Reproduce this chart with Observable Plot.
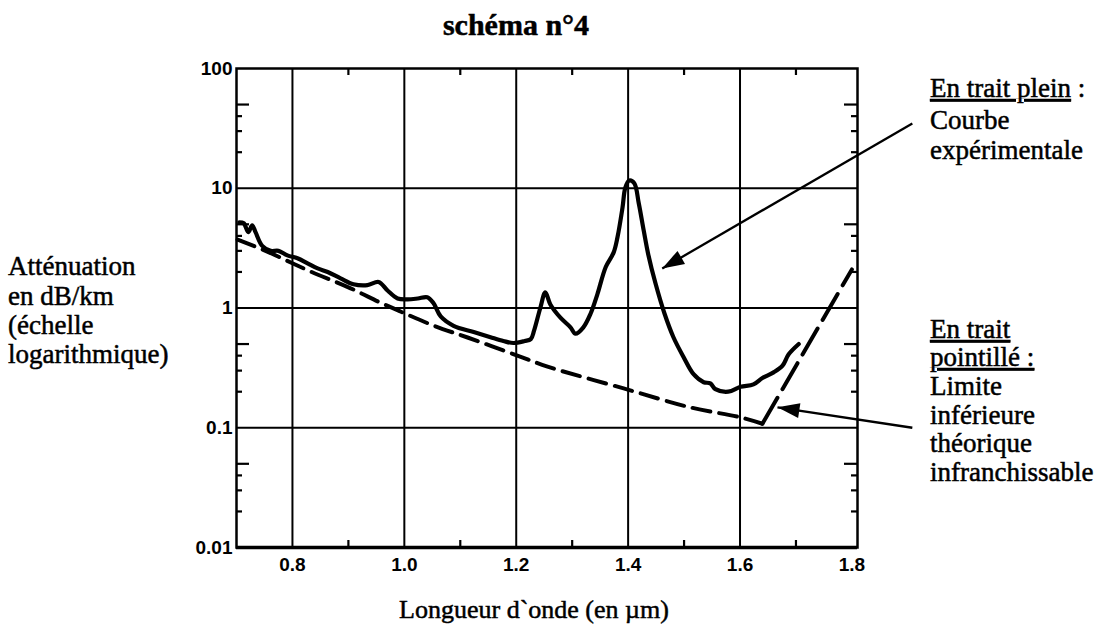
<!DOCTYPE html>
<html><head><meta charset="utf-8">
<script src="https://cdn.jsdelivr.net/npm/d3@7"></script>
<script src="https://cdn.jsdelivr.net/npm/@observablehq/plot@0.6"></script>
<style>
body{margin:0;background:#fff;}
#wrap{position:relative;width:1095px;height:631px;overflow:hidden;background:#fff;}
#wrap svg{position:absolute;left:0;top:0;}
.t{font-family:"Liberation Serif","Times New Roman","DejaVu Serif",serif;fill:#000;stroke:#000;stroke-width:0.5px;}
</style></head><body><div id="wrap"></div>
<script>
// ---- data ----
const xDomain = [0.7, 1.81];
const yDomain = [0.01, 100];
const xTicks = [0.8, 1.0, 1.2, 1.4, 1.6, 1.8];
const xGrid = [0.8, 1.0, 1.2, 1.4, 1.6];
const xMinor = [0.9, 1.1, 1.3, 1.5, 1.7];
const yLabels = [100, 50, 10, 5, 1, 0.5, 0.1, 0.05, 0.01];
const yGrid = [10, 1, 0.1];
const yLong = [50, 5, 0.5, 0.05];
const yShort = [40, 30, 20, 4, 3, 2, 0.4, 0.3, 0.2, 0.04, 0.03, 0.02];

// experimental curve (solid)
const expX = [0.705,0.713,0.721,0.728,0.734,0.746,0.761,0.775,0.791,0.809,0.827,0.845,0.863,0.886,0.909,0.934,0.954,0.970,0.988,1.006,1.024,1.041,1.052,1.065,1.088,1.124,1.154,1.177,1.195,1.215,1.226,1.232,1.243,1.252,1.261,1.279,1.297,1.306,1.320,1.333,1.345,1.360,1.374,1.381,1.390,1.395,1.402,1.411,1.419,1.428,1.436,1.449,1.465,1.481,1.499,1.517,1.535,1.547,1.556,1.579,1.601,1.624,1.640,1.660,1.676,1.687,1.705];
const expY = [5.2,5.1,4.3,4.9,4.3,3.3,3.0,3.0,2.75,2.6,2.36,2.14,2.0,1.77,1.58,1.55,1.65,1.4,1.2,1.18,1.2,1.23,1.1,0.85,0.71,0.63,0.57,0.53,0.51,0.53,0.55,0.65,1.0,1.35,1.07,0.83,0.69,0.61,0.69,0.9,1.3,2.2,2.9,3.9,6.9,10.1,11.6,11,7.5,4.4,2.8,1.6,0.9,0.57,0.39,0.28,0.24,0.235,0.21,0.2,0.22,0.23,0.26,0.29,0.33,0.41,0.5];

// theoretical lower limit (dashed)
const limX = [0.702,0.755,0.797,0.832,0.904,0.957,0.993,1.052,1.113,1.202,1.256,1.392,1.511,1.601,1.640];
const limY = [3.73,2.96,2.40,2.02,1.46,1.11,0.935,0.714,0.567,0.401,0.324,0.213,0.148,0.122,0.108];
// rising branch of the limit (long dashes)
const riseX = [1.640, 1.800];
const riseY = [0.108, 2.1];

// annotation arrows (data units)
const arrowX1 = [1.908, 1.908];
const arrowY1 = [34.8, 0.1];
const arrowX2 = [1.461, 1.667];
const arrowY2 = [2.14, 0.148];

// ---- tables ----
const expData = expX.map((x, i) => ({x, y: expY[i]}));
const limData = limX.map((x, i) => ({x, y: limY[i]}));
const riseData = riseX.map((x, i) => ({x, y: riseY[i]}));
const arrowData = arrowX1.map((x1, i) => ({x1, y1: arrowY1[i], x2: arrowX2[i], y2: arrowY2[i]}));

const W = 1095, H = 631, mL = 236, mR = 238, mT = 68, mB = 84;
const fw = W - mL - mR, fh = H - mT - mB;

const plot = Plot.plot({
  width: W, height: H,
  marginLeft: mL, marginRight: mR, marginTop: mT, marginBottom: mB,
  style: {background: "white", color: "black", fontFamily: "'Liberation Sans', Arial, sans-serif", overflow: "visible"},
  x: {domain: xDomain},
  y: {type: "log", domain: yDomain},
  marks: [
    Plot.ruleX(xGrid, {x: d => d, stroke: "black", strokeWidth: 2}),
    Plot.ruleY(yGrid, {y: d => d, stroke: "black", strokeWidth: 2}),
    Plot.tickY(yLong, {y: d => d, insetRight: fw - 13, strokeWidth: 2.2}),
    Plot.tickY(yLong, {y: d => d, insetLeft: fw - 13, strokeWidth: 2.2}),
    Plot.tickY(yShort, {y: d => d, insetRight: fw - 6, strokeWidth: 2.2}),
    Plot.tickY(yShort, {y: d => d, insetLeft: fw - 6, strokeWidth: 2.2}),
    Plot.tickX(xMinor, {x: d => d, insetTop: fh - 7, strokeWidth: 2.2}),
    Plot.tickX(xMinor, {x: d => d, insetBottom: fh - 7, strokeWidth: 2.2}),
    Plot.frame({stroke: "black", strokeWidth: 2.5}),
    Plot.ruleY([yDomain[0]], {y: d => d, strokeWidth: 3.5}),
    Plot.axisX({ticks: xTicks, tickFormat: d3.format(".1f"), tickSize: 0, tickPadding: 10, fontSize: 19, fontWeight: "bold", label: null}),
    Plot.axisY({ticks: yLabels, tickFormat: d => String(d), tickSize: 0, tickPadding: 4, fontSize: 19, fontWeight: "bold", label: null}),
    Plot.line(limData, {x: "x", y: "y", stroke: "black", strokeWidth: 4, strokeDasharray: "18,9", curve: "catmull-rom"}),
    Plot.line(riseData, {x: "x", y: "y", stroke: "black", strokeWidth: 4, strokeDasharray: "30,10"}),
    Plot.line(expData, {x: "x", y: "y", stroke: "black", strokeWidth: 4.2, curve: "catmull-rom", strokeLinejoin: "round"}),
    Plot.link(arrowData, {x1: "x1", y1: "y1", x2: "x2", y2: "y2", stroke: "black", strokeWidth: 2.3})
  ]
});

// filled arrowheads on the annotation links
const ns = "http://www.w3.org/2000/svg";
const defs = document.createElementNS(ns, "defs");
const mk = document.createElementNS(ns, "marker");
mk.setAttribute("id", "ah");
mk.setAttribute("viewBox", "-23 -9 25 18");
mk.setAttribute("markerWidth", "25");
mk.setAttribute("markerHeight", "18");
mk.setAttribute("markerUnits", "userSpaceOnUse");
mk.setAttribute("orient", "auto");
mk.setAttribute("refX", "0");
mk.setAttribute("refY", "0");
const mp = document.createElementNS(ns, "path");
mp.setAttribute("d", "M-22,-7.5L0,0L-22,7.5Z");
mp.setAttribute("fill", "black");
mk.appendChild(mp);
defs.appendChild(mk);
plot.insertBefore(defs, plot.firstChild);
plot.querySelectorAll('g[aria-label="link"] path').forEach(p => p.setAttribute("marker-end", "url(#ah)"));

document.getElementById("wrap").appendChild(plot);

// ---- text overlay ----
const texts = [
  {s: "schéma n°4", x: 516, y: 35, size: 30, weight: "bold", anchor: "middle"},
  {s: "Longueur d`onde (en µm)", x: 534, y: 618, size: 26, anchor: "middle"},
  {s: "Atténuation", x: 8, y: 275, size: 27},
  {s: "en dB/km", x: 8, y: 305, size: 27},
  {s: "(échelle", x: 8, y: 334, size: 27},
  {s: "logarithmique)", x: 8, y: 363, size: 27},
  {parts: [["En trait plein", true], [" :", false]], x: 930, y: 97, size: 27},
  {s: "Courbe", x: 930, y: 129, size: 27},
  {s: "expérimentale", x: 930, y: 159, size: 27},
  {parts: [["En trait", true]], x: 930, y: 338, size: 27},
  {parts: [["pointillé :", true]], x: 930, y: 366, size: 27},
  {s: "Limite", x: 930, y: 395, size: 27},
  {s: "inférieure", x: 930, y: 424, size: 27},
  {s: "théorique", x: 930, y: 452, size: 27},
  {s: "infranchissable", x: 930, y: 481, size: 27}
];
const ov = d3.select("#wrap").append("svg").attr("width", W).attr("height", H).style("pointer-events", "none");
for (const t of texts) {
  const el = ov.append("text").attr("class", "t").attr("x", t.x).attr("y", t.y)
    .attr("font-size", t.size).attr("font-weight", t.weight || "normal")
    .attr("text-anchor", t.anchor || "start");
  if (t.parts) {
    for (const [s, u] of t.parts) el.append("tspan").text(s).attr("text-decoration", u ? "underline" : null);
  } else el.text(t.s);
}
</script>
</body></html>
